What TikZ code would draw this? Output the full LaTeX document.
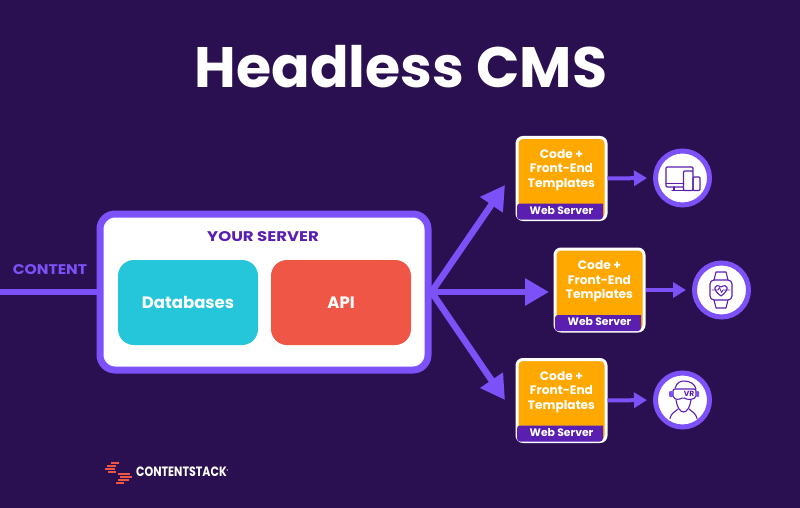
\documentclass[tikz,border=0pt]{standalone}
\usepackage{fontspec}
\setmainfont{Poppins}
\usetikzlibrary{arrows.meta}
\definecolor{bgdark}{HTML}{2A1050}
\definecolor{violet}{HTML}{7C52F8}
\definecolor{deepviolet}{HTML}{5A1EB0}
\definecolor{teal}{HTML}{26C6DA}
\definecolor{coral}{HTML}{EF5645}
\definecolor{amber}{HTML}{FFA800}
\tikzset{
  x=1pt,y=-1pt,
  flow/.style={draw=violet,line width=6.5pt},
  flowtip/.style={-{Triangle[length=24pt,width=26pt]}},
  thin flow/.style={draw=violet,line width=4pt,shorten >=6pt,-{Triangle[length=13pt,width=15pt]}},
  tile/.style={rounded corners=16pt,minimum width=140pt,minimum height=85pt,text=white,font=\bfseries\fontsize{16.5}{18}\selectfont,inner sep=0pt},
  heading/.style={inner sep=0pt,font=\bfseries\fontsize{14}{15}\selectfont},
  tmplbox/.style={draw=white,fill=amber,line width=3pt,rounded corners=6pt,minimum width=89pt,minimum height=82pt,inner sep=0pt},
  tmpltext/.style={text=white,align=center,inner sep=0pt,font=\bfseries\fontsize{12.2}{14.5}\selectfont},
  bandtext/.style={text=white,inner sep=0pt,font=\bfseries\fontsize{10.8}{12}\selectfont},
  devicering/.style={circle,draw=violet,fill=white,line width=5pt,minimum size=54pt,inner sep=0pt},
  glyph/.style={draw=deepviolet,line width=1.1pt,line join=round,line cap=round},
  logobar/.style={draw=coral,line width=2.2pt},
}
\begin{document}
\begin{tikzpicture}
\fill[bgdark] (0,0) rectangle (800,508);
\useasboundingbox (0,0) rectangle (800,508);
\node[text=white,inner sep=0pt,font=\bfseries\fontsize{57}{60}\selectfont] (title) at (401,67) {Headless CMS};
% server
\node[draw=violet,fill=white,line width=7pt,rounded corners=15pt,minimum width=328pt,minimum height=156pt,inner sep=0pt] (server) at (264,292) {};
\node[heading,text=deepviolet] (yours) at (263,237) {\scalebox{1.18}[1]{YOUR SERVER}};
\node[tile,fill=teal] (db) at (188,302.5) {\raisebox{-1pt}{Databases}};
\node[tile,fill=coral] (api) at (341,302.5) {\raisebox{-1pt}{API}};
\node[heading,text=violet] (content) at (50,270) {\scalebox{1.11}[1]{CONTENT}};
\coordinate (in) at (0,292);
\draw[flow] (in) -- (server.west);
% boxes
\foreach \name/\xpos/\ypos in {a/561.5/178.5,b/599.5/290,c/561.5/400.5} {
  \node[tmplbox] (box\name) at (\xpos,\ypos) {};
  \fill[deepviolet,rounded corners=3pt] (box\name.south west) ++(1.5,-1.5) -- ++(0,-16) [sharp corners] -- ++(86,0) [rounded corners=3pt] -- ++(0,16) -- cycle;
  \node[tmpltext] (text\name) at (\xpos,\ypos-8.5) {Code +\\Front-End\\Templates};
  \node[bandtext] (band\name) at (\xpos,\ypos+32) {Web Server};
}
% arrows
\coordinate (tipa) at (505,185);
\coordinate (tipb) at (549,292);
\coordinate (tipc) at (505,400);
\foreach \name in {a,b,c} {
  \draw[flow,flowtip] (server.east) -- (tip\name);
}
% devices
\node[devicering] (ringa) at (682.5,178) {};
\node[devicering] (ringb) at (721.5,290) {};
\node[devicering] (ringc) at (682.5,400) {};
\foreach \name in {a,b,c} {
  \draw[thin flow] (box\name.east) -- (ring\name.west);
}
% screens icon
\draw[glyph,rounded corners=1pt] (683,187) -- (666,187) -- (666,167) -- (693,167) -- (693,171);
\draw[glyph] (666,183.5) -- (683,183.5) (674,187) -- (674,190) (672,190.5) -- (692,190.5);
\draw[glyph,rounded corners=1pt] (683.5,171) rectangle (693,190.5);
\draw[glyph,rounded corners=1pt] (693,177) rectangle (700,190.5);
% watch icon
\draw[glyph,rounded corners=4pt] (710,280) rectangle (732,300);
\draw[glyph] (714,280) -- (716,272) -- (726,272) -- (728,280) (714,300) -- (716,308) -- (726,308) -- (728,300);
\draw[glyph] (721,296) .. controls (711,289) and (715,283) .. (721,287) .. controls (727,283) and (731,289) .. (721,296);
\draw[glyph,line width=.8pt] (712,290) -- (718,290) -- (719.5,287.5) -- (721.5,292.5) -- (723,290) -- (730,290);
% vr icon
\draw[glyph] (675,388) .. controls (677,382) and (681,381) .. (684,381) .. controls (690,381) and (695,384) .. (696,389);
\draw[glyph,rounded corners=2pt] (673,389) -- (696,389) -- (696,398) -- (688,400) -- (683,397) -- (679,400) -- (673,398) -- cycle;
\fill[violet,rounded corners=1pt] (669,391) rectangle (673,397) (696,391) rectangle (699,397);
\node[text=deepviolet,inner sep=0pt,font=\bfseries\fontsize{7.5}{8}\selectfont] (vr) at (689,393.5) {VR};
\draw[glyph] (676,400) .. controls (677,407) and (680,412) .. (683.5,412) .. controls (687,412) and (690,407) .. (691,400);
\draw[glyph] (670,418.5) .. controls (671,413) and (675,412) .. (678,409) (697,418.5) .. controls (696,413) and (692,412) .. (689,409);
% logo
\foreach \xa/\xb/\ybar in {111/119/463,107/116/466,105/115/469,108/116/472,118/130/474,120/132/477,118/129/480,116/124/483} {
  \draw[logobar] (\xa,\ybar) -- (\xb,\ybar);
}
\node[anchor=west,text=white,inner sep=0pt,font=\bfseries\fontsize{13.5}{14}\selectfont] (logo) at (136,472) {\scalebox{.82}[1]{CONTENTSTACK\raisebox{.6ex}{\fontsize{4}{4}\selectfont ®}}};
\end{tikzpicture}
\end{document}
